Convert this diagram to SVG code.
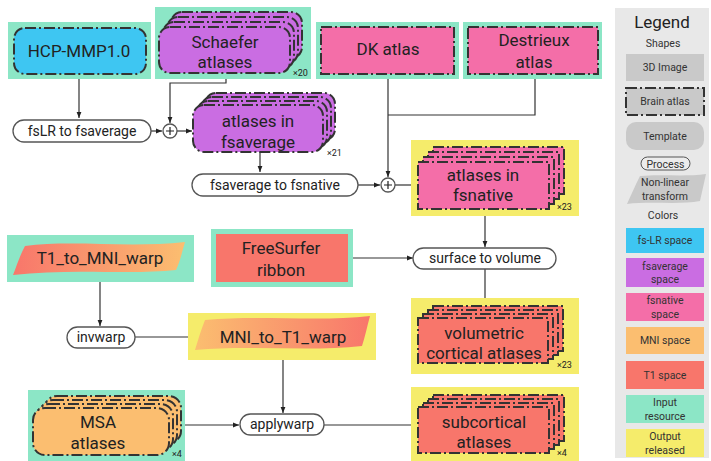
<svg xmlns="http://www.w3.org/2000/svg" width="711" height="461" viewBox="0 0 711 461">
<defs>
<style>
.t{font-family:Roboto,"Liberation Sans","DejaVu Sans",sans-serif;fill:#222;text-anchor:middle}
.big{font-size:17px}
.pr{font-size:14px}
.sm{font-size:9px;text-anchor:start}
.lg{font-size:10.5px;fill:#333}
.atl{stroke:#333;stroke-width:2;stroke-dasharray:11 3 2 3}
.proc{fill:#fff;stroke:#555;stroke-width:1.3}
.edge{fill:none;stroke:#333;stroke-width:1.2}
.in{fill:#8ce6c6}
.out{fill:#f5ec6b}
.blue{fill:#3ec6f2}
.purp{fill:#ca6de2}
.pink{fill:#f46ea8}
.orng{fill:#fbbe70}
.red{fill:#f8766b}
.lgray{fill:#c9c9c9}
</style>
<marker id="a" viewBox="0 0 10 10" refX="10" refY="5" markerWidth="7" markerHeight="6" markerUnits="userSpaceOnUse" orient="auto">
<path d="M0,1 L10,5 L0,9 z" fill="#222"/>
</marker>
<linearGradient id="g1" x1="0" y1="0" x2="1" y2="0">
<stop offset="0" stop-color="#f8766b"/><stop offset="1" stop-color="#fbbe70"/>
</linearGradient>
<linearGradient id="g2" x1="0" y1="0" x2="1" y2="0">
<stop offset="0" stop-color="#fbbe70"/><stop offset="1" stop-color="#f8766b"/>
</linearGradient>
</defs>
<rect width="711" height="461" fill="#fff"/>

<g id="connectors">
<path class="edge" d="M79,74 V118" marker-end="url(#a)"/>
<path class="edge" d="M151,131 H162" marker-end="url(#a)"/>
<path class="edge" d="M226,73 V83 H170 V123" marker-end="url(#a)"/>
<path class="edge" d="M177,131 H192" marker-end="url(#a)"/>
<path class="edge" d="M260,152 V172" marker-end="url(#a)"/>
<path class="edge" d="M358,185 H380" marker-end="url(#a)"/>
<path class="edge" d="M388,74 V177" marker-end="url(#a)"/>
<path class="edge" d="M535,74 V115 H388"/>
<path class="edge" d="M395,185 H417" marker-end="url(#a)"/>
<path class="edge" d="M485,209 V247" marker-end="url(#a)"/>
<path class="edge" d="M348,258 H413" marker-end="url(#a)"/>
<path class="edge" d="M485,269 V305" marker-end="url(#a)"/>
<path class="edge" d="M100,273 V326" marker-end="url(#a)"/>
<path class="edge" d="M135,337 H199" marker-end="url(#a)"/>
<path class="edge" d="M283,349 V413" marker-end="url(#a)"/>
<path class="edge" d="M182,425 H239" marker-end="url(#a)"/>
<path class="edge" d="M324,425 H417" marker-end="url(#a)"/>
</g>

<g id="hcp">
<rect class="in" x="8" y="22" width="143" height="57"/>
<rect class="blue atl" x="14" y="28" width="132" height="46" rx="11"/>
<text class="t big" x="79" y="57">HCP-MMP1.0</text>
</g>

<g id="schaefer">
<rect class="in" x="155" y="7" width="156" height="72"/>
<rect class="purp atl" x="171" y="12" width="131" height="46" rx="11"/>
<rect class="purp atl" x="167" y="17" width="131" height="46" rx="11"/>
<rect class="purp atl" x="163" y="22" width="131" height="46" rx="11"/>
<rect class="purp atl" x="159" y="27" width="131" height="46" rx="11"/>
<text class="t big" x="225" y="48">Schaefer</text>
<text class="t big" x="225" y="68">atlases</text>
<text class="t sm" x="293" y="76">×20</text>
</g>

<g id="dk">
<rect class="in" x="316" y="22" width="143" height="57"/>
<rect class="pink atl" x="321" y="27" width="133" height="47"/>
<text class="t big" x="388" y="55">DK atlas</text>
</g>

<g id="destrieux">
<rect class="in" x="463" y="22" width="139" height="57"/>
<rect class="pink atl" x="468" y="27" width="130" height="47"/>
<text class="t big" x="534" y="46">Destrieux</text>
<text class="t big" x="534" y="68">atlas</text>
</g>

<g id="fslr2fsavg">
<rect class="proc" x="13" y="120" width="138" height="22" rx="11"/>
<text class="t pr" x="82" y="136">fsLR to fsaverage</text>
</g>

<g id="plus1">
<circle class="proc" cx="170" cy="131" r="7"/>
<path d="M166,131 H174 M170,127 V135" stroke="#222" stroke-width="1.2"/>
</g>

<g id="fsavg_atlases">
<rect class="purp atl" x="205" y="93" width="130" height="47" rx="11"/>
<rect class="purp atl" x="201" y="97" width="130" height="47" rx="11"/>
<rect class="purp atl" x="197" y="101" width="130" height="47" rx="11"/>
<rect class="purp atl" x="193" y="105" width="130" height="47" rx="11"/>
<text class="t big" x="258" y="127">atlases in</text>
<text class="t big" x="258" y="148">fsaverage</text>
<text class="t sm" x="327" y="156">×21</text>
</g>

<g id="fsavg2fsnat">
<rect class="proc" x="192" y="174" width="166" height="22" rx="11"/>
<text class="t pr" x="275" y="190">fsaverage to fsnative</text>
</g>

<g id="plus2">
<circle class="proc" cx="388" cy="185" r="7"/>
<path d="M384,185 H392 M388,181 V189" stroke="#222" stroke-width="1.2"/>
</g>

<g id="fsnat_atlases">
<rect class="out" x="411" y="140" width="168" height="76"/>
<rect class="pink atl" x="433" y="147" width="131" height="47"/>
<rect class="pink atl" x="428" y="152" width="131" height="47"/>
<rect class="pink atl" x="423" y="157" width="131" height="47"/>
<rect class="pink atl" x="418" y="162" width="131" height="47"/>
<text class="t big" x="483" y="181">atlases in</text>
<text class="t big" x="483" y="201">fsnative</text>
<text class="t sm" x="557" y="210">×23</text>
</g>

<g id="t1tomni">
<rect class="in" x="7" y="235" width="187" height="47"/>
<path d="M13,275 C17,265 20,255 25,246 C70,240 130,248 185,242 C182,252 180,262 176,270 C130,275 70,268 13,275 Z" fill="url(#g1)"/>
<text class="t big" x="100" y="264">T1_to_MNI_warp</text>
</g>

<g id="ribbon">
<rect class="in" x="211" y="229" width="142" height="58"/>
<rect class="red" x="216" y="234" width="132" height="48"/>
<text class="t big" x="281" y="254">FreeSurfer</text>
<text class="t big" x="281" y="276">ribbon</text>
</g>

<g id="surf2vol">
<rect class="proc" x="413" y="248" width="143" height="21" rx="10.5"/>
<text class="t pr" x="485" y="263">surface to volume</text>
</g>

<g id="vol_atlases">
<rect class="out" x="411" y="298" width="168" height="76"/>
<rect class="red atl" x="433" y="306" width="130" height="45"/>
<rect class="red atl" x="428" y="310" width="130" height="45"/>
<rect class="red atl" x="423" y="314" width="130" height="45"/>
<rect class="red atl" x="418" y="318" width="130" height="45"/>
<text class="t big" x="484" y="339">volumetric</text>
<text class="t big" x="484" y="359">cortical atlases</text>
<text class="t sm" x="557" y="368">×23</text>
</g>

<g id="invwarp">
<rect class="proc" x="67" y="327" width="68" height="21" rx="10.5"/>
<text class="t pr" x="101" y="342">invwarp</text>
</g>

<g id="mnitot1">
<rect class="out" x="188" y="313" width="188" height="47"/>
<path d="M195,350 C198,340 201,330 205,320 C260,315 320,322 370,316 C367,327 365,337 362,346 C310,352 250,345 195,350 Z" fill="url(#g2)"/>
<text class="t big" x="283" y="343">MNI_to_T1_warp</text>
</g>

<g id="msa">
<rect class="in" x="28" y="390" width="157" height="71"/>
<rect class="orng atl" x="45" y="396" width="136" height="47" rx="12"/>
<rect class="orng atl" x="41" y="400" width="136" height="47" rx="12"/>
<rect class="orng atl" x="37" y="404" width="136" height="47" rx="12"/>
<rect class="orng atl" x="33" y="408" width="136" height="47" rx="12"/>
<text class="t big" x="98" y="428">MSA</text>
<text class="t big" x="98" y="449">atlases</text>
<text class="t sm" x="172" y="457">×4</text>
</g>

<g id="applywarp">
<rect class="proc" x="240" y="414" width="84" height="21" rx="10.5"/>
<text class="t pr" x="282" y="429">applywarp</text>
</g>

<g id="subcort_atlases">
<rect class="out" x="411" y="387" width="168" height="74"/>
<rect class="red atl" x="433" y="395" width="131" height="46"/>
<rect class="red atl" x="428" y="399" width="131" height="46"/>
<rect class="red atl" x="423" y="403" width="131" height="46"/>
<rect class="red atl" x="418" y="407" width="131" height="46"/>
<text class="t big" x="484" y="428">subcortical</text>
<text class="t big" x="484" y="448">atlases</text>
<text class="t sm" x="557" y="456">×4</text>
</g>

<g id="legend">
<rect x="615" y="8" width="94" height="450" fill="#e8e8e8"/>
<text class="t" x="662" y="28" font-size="17" fill="#222">Legend</text>
<text class="t lg" x="663" y="47">Shapes</text>
<rect class="lgray" x="626" y="54" width="78" height="27"/>
<text class="t lg" x="665" y="71">3D Image</text>
<rect class="lgray atl" x="626" y="88" width="78" height="27"/>
<text class="t lg" x="665" y="105">Brain atlas</text>
<rect class="lgray" x="626" y="122" width="78" height="28" rx="10"/>
<text class="t lg" x="665" y="140">Template</text>
<rect x="641" y="157" width="49" height="13" rx="6.5" fill="#ececec" stroke="#555" stroke-width="1"/>
<text class="t lg" x="665.5" y="167.5">Process</text>
<path d="M627,204 C631,195 635,186 640,176 C660,174 685,177 706,174 C704,183 702,192 700,201 C680,205 650,201 627,204 Z" fill="#c9c9c9"/>
<text class="t lg" x="665" y="186">Non-linear</text>
<text class="t lg" x="665" y="199.5">transform</text>
<text class="t lg" x="663" y="219">Colors</text>
<rect class="blue" x="626" y="228" width="78" height="25"/>
<text class="t lg" x="665" y="244">fs-LR space</text>
<rect class="purp" x="626" y="258" width="78" height="29"/>
<text class="t lg" x="665" y="269.5">fsaverage</text>
<text class="t lg" x="665" y="283">space</text>
<rect class="pink" x="626" y="293" width="78" height="28"/>
<text class="t lg" x="665" y="304">fsnative</text>
<text class="t lg" x="665" y="317.5">space</text>
<rect class="orng" x="626" y="327" width="78" height="27"/>
<text class="t lg" x="665" y="344">MNI space</text>
<rect class="red" x="626" y="361" width="78" height="28"/>
<text class="t lg" x="665" y="379">T1 space</text>
<rect class="in" x="626" y="395" width="78" height="28"/>
<text class="t lg" x="665" y="406">Input</text>
<text class="t lg" x="665" y="419.5">resource</text>
<rect class="out" x="626" y="429" width="78" height="28"/>
<text class="t lg" x="665" y="440">Output</text>
<text class="t lg" x="665" y="453.5">released</text>
</g>
</svg>
